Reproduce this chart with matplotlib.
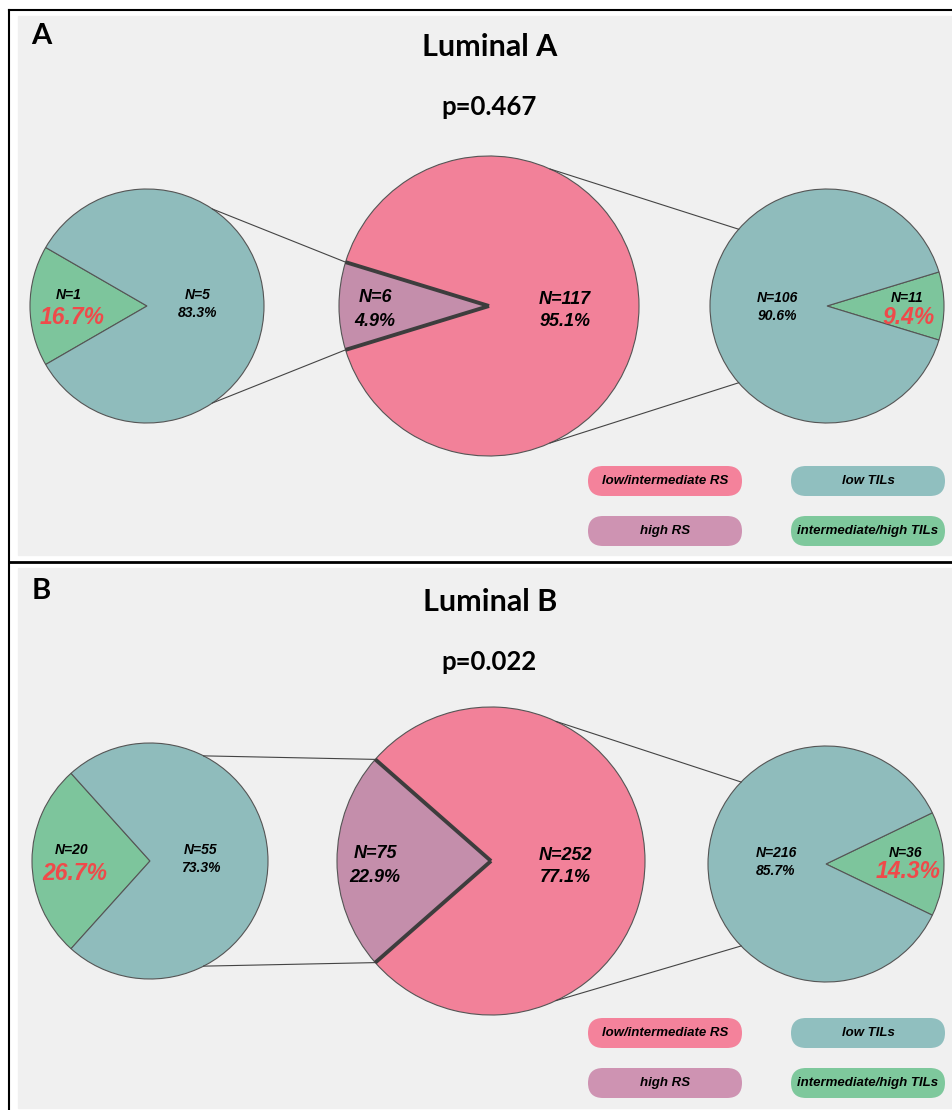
import numpy as np
import matplotlib
matplotlib.use("Agg")
import matplotlib.pyplot as plt
from matplotlib.patches import Rectangle, FancyBboxPatch

# ---------------------------------------------------------------------------
# Data: counts
# ---------------------------------------------------------------------------
panels = ["A", "B"]
titles = ["Luminal A", "Luminal B"]
pvalues = ["p=0.467", "p=0.022"]

# recurrence score groups: [high RS, low/intermediate RS]
rs_counts = [[6, 117], [75, 252]]
# TILs within high RS: [intermediate/high TILs, low TILs]
til_high_rs = [[1, 5], [20, 55]]
# TILs within low/intermediate RS: [intermediate/high TILs, low TILs]
til_low_rs = [[11, 106], [36, 216]]

legend_labels = ["low/intermediate RS", "low TILs", "high RS", "intermediate/high TILs"]

# colours
pink = "#f28199"
purple = "#c48eab"
teal = "#8fbcbc"
green = "#7dc59c"
red_txt = "#ef4a4a"
bg = "#f0f0f0"
legend_colors = ["#f4829b", "#90bfbf", "#ce93b2", "#7ec89c"]

# smallest angle a central wedge is drawn with, so the label fits inside
min_wedge_deg = 34

W, H = 953, 1110
fig = plt.figure(figsize=(W / 100, H / 100), dpi=100)
ax = fig.add_axes([0, 0, 1, 1])
ax.set_xlim(0, W)
ax.set_ylim(0, H)
ax.axis("off")


def Y(y):
    # picture rows -> axes y (upwards)
    return H - y


lab_font = dict(family="Liberation Sans", style="italic", weight="bold")
title_font = dict(family="Lato", weight="bold")

# panel frames
ax.add_patch(Rectangle((18, Y(555)), W - 18, 555 - 16, color=bg, zorder=0))
ax.add_patch(Rectangle((18, Y(1108)), W - 18, 1108 - 568, color=bg, zorder=0))
ax.plot([9, W], [Y(10), Y(10)], color="black", lw=1.5)
ax.plot([9, 9], [Y(10), Y(H)], color="black", lw=1.5)
ax.plot([9, W], [Y(562), Y(562)], color="black", lw=2)

# layout per panel (picture coordinates)
offsets = [0, 555]
centre_c = [(489, 306), (491, 306)]
centre_r = [150, 154]
left_c = [(147, 306), (150, 306)]
right_c = [(827, 306), (826, 309)]
side_r = [117, 118]
left_ang = [56, 63]       # where the zoom lines touch the left pie
right_ang = [139, 136]    # where the zoom lines touch the right pie
centre_right_ang = [66, 65]
legend_y = [481, 531]
legend_x = [665, 868]

for i in range(2):
    off = offsets[i]
    cx, cy = centre_c[i][0], Y(centre_c[i][1] + off)
    lx, ly = left_c[i][0], Y(left_c[i][1] + off)
    rx, ry = right_c[i][0], Y(right_c[i][1] + off)
    R, r = centre_r[i], side_r[i]

    # headings
    ax.text(41, Y(36 + off), panels[i], fontsize=21, ha="center", va="center", **title_font)
    ax.text(490, Y(47 + off), titles[i], fontsize=22, ha="center", va="center", **title_font)
    ax.text(489, Y(107 + off), pvalues[i], fontsize=18.5, ha="center", va="center", **title_font)

    # central pie (high RS wedge centred on the left)
    hi, lo = rs_counts[i]
    frac_hi = hi / (hi + lo)
    a = max(360 * frac_hi, min_wedge_deg)
    wp = dict(edgecolor="#555555", linewidth=0.8)
    ax.pie([a, 360 - a], colors=[purple, pink], startangle=180 - a / 2, center=(cx, cy),
           radius=R, wedgeprops=wp, frame=True)
    for t in (180 - a / 2, 180 + a / 2):
        ax.plot([cx, cx + R * np.cos(np.radians(t))], [cy, cy + R * np.sin(np.radians(t))],
                color="#3d3d3d", lw=2.8, solid_capstyle="butt", zorder=5)

    # left pie (TILs in high RS), green wedge on the left
    g, t_ = til_high_rs[i]
    b = 360 * g / (g + t_)
    ax.pie([g, t_], colors=[green, teal], startangle=180 - b / 2, center=(lx, ly),
           radius=r, wedgeprops=wp, frame=True)

    # right pie (TILs in low RS), green wedge on the right
    g2, t2 = til_low_rs[i]
    c = 360 * g2 / (g2 + t2)
    ax.pie([g2, t2], colors=[green, teal], startangle=-c / 2, center=(rx, ry),
           radius=r, wedgeprops=wp, frame=True)

    # zoom lines
    for s in (1, -1):
        p0 = (cx + R * np.cos(np.radians(180 - s * a / 2)), cy + R * np.sin(np.radians(180 - s * a / 2)))
        p1 = (lx + r * np.cos(np.radians(s * left_ang[i])), ly + r * np.sin(np.radians(s * left_ang[i])))
        ax.plot([p0[0], p1[0]], [p0[1], p1[1]], color="#444444", lw=0.8, zorder=1)
        q0 = (cx + R * np.cos(np.radians(s * centre_right_ang[i])), cy + R * np.sin(np.radians(s * centre_right_ang[i])))
        q1 = (rx + r * np.cos(np.radians(s * right_ang[i])), ry + r * np.sin(np.radians(s * right_ang[i])))
        ax.plot([q0[0], q1[0]], [q0[1], q1[1]], color="#444444", lw=0.8, zorder=1)

    # labels
    ax.text(375, Y(298 + off), f"N={hi}", fontsize=13, ha="center", va="center", **lab_font)
    ax.text(375, Y(322 + off), f"{100 * frac_hi:.1f}%", fontsize=13, ha="center", va="center", **lab_font)
    ax.text(565, Y(300 + off), f"N={lo}", fontsize=13, ha="center", va="center", **lab_font)
    ax.text(565, Y(322 + off), f"{100 * (1 - frac_hi):.1f}%", fontsize=13, ha="center", va="center", **lab_font)

    ax.text(lx - 78, Y(295 + off), f"N={g}", fontsize=10, ha="center", va="center", **lab_font)
    ax.text(lx - 75, Y(318 + off), f"{100 * g / (g + t_):.1f}%", fontsize=16.5, ha="center", va="center",
            color=red_txt, **lab_font)
    ax.text(lx + 51, Y(295 + off), f"N={t_}", fontsize=10, ha="center", va="center", **lab_font)
    ax.text(lx + 51, Y(313 + off), f"{100 * t_ / (g + t_):.1f}%", fontsize=10, ha="center", va="center", **lab_font)

    ax.text(rx - 50, Y(298 + off), f"N={t2}", fontsize=10, ha="center", va="center", **lab_font)
    ax.text(rx - 50, Y(316 + off), f"{100 * t2 / (g2 + t2):.1f}%", fontsize=10, ha="center", va="center", **lab_font)
    ax.text(rx + 80, Y(298 + off), f"N={g2}", fontsize=10, ha="center", va="center", **lab_font)
    ax.text(rx + 82, Y(317 + off), f"{100 * g2 / (g2 + t2):.1f}%", fontsize=16.5, ha="center", va="center",
            color=red_txt, **lab_font)

    # legend pills
    k = 0
    for row in range(2):
        for col in range(2):
            x0 = legend_x[col]
            y0 = Y(legend_y[row] + off - 3 * i)
            ax.add_patch(FancyBboxPatch((x0 - 77, y0 - 15), 154, 30,
                                        boxstyle="round,pad=0,rounding_size=15",
                                        facecolor=legend_colors[k], edgecolor="none", zorder=2))
            ax.text(x0, y0, legend_labels[k], fontsize=9.5, ha="center", va="center", zorder=3, **lab_font)
            k += 1

ax.set_xlim(0, W)
ax.set_ylim(0, H)
ax.set_aspect("auto")
fig.savefig("out.png", dpi=100, facecolor="white")
